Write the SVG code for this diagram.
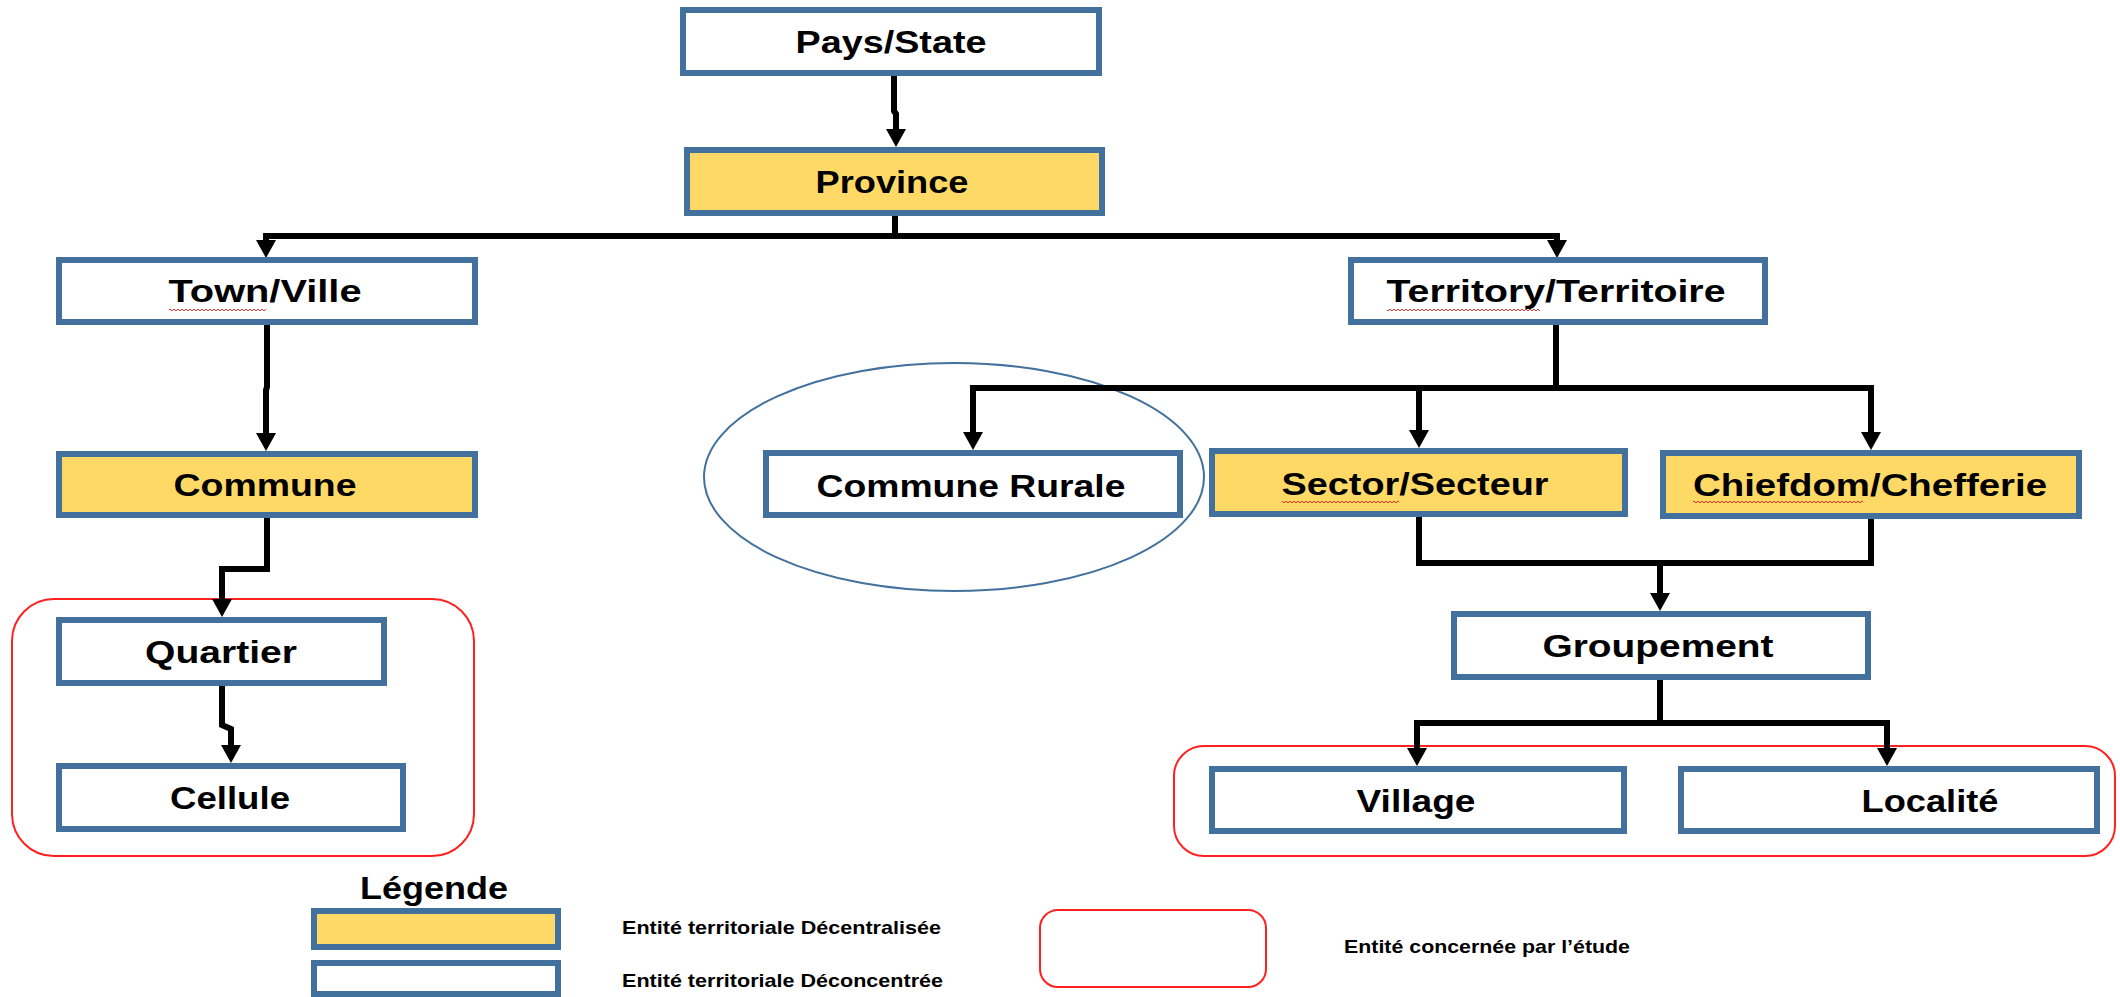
<svg xmlns="http://www.w3.org/2000/svg" width="2120" height="997" viewBox="0 0 2120 997">
<defs>
<style>
.box{fill:#FFFFFF;stroke:#41719C;stroke-width:6}
.dec{fill:#FFD966;stroke:#41719C;stroke-width:6}
.lbl{font-family:"Liberation Sans",Arial,sans-serif;font-weight:bold;font-size:32px;fill:#000;text-anchor:middle}
.leg{font-family:"Liberation Sans",Arial,sans-serif;font-weight:bold;font-size:19px;fill:#000}
.zone{fill:none;stroke:#FF2020;stroke-width:2}
.conn{fill:none;stroke:#000;stroke-width:6;stroke-linejoin:miter}
.sq{fill:url(#sq)}
</style>
<marker id="arr" viewBox="0 0 18 20" refX="8" refY="10" markerWidth="18" markerHeight="20" markerUnits="userSpaceOnUse" orient="auto">
<path d="M0 0 L18 10 L0 20 Z" fill="#000"/>
</marker>
<pattern id="sq" width="4" height="4" patternUnits="userSpaceOnUse">
<path d="M0 3 L2 1 L4 3" stroke="#E02020" stroke-width="0.9" fill="none"/>
</pattern>
</defs>

<g id="zones">
<rect class="zone" x="12" y="599" width="462" height="257" rx="42" ry="42"/>
<rect class="zone" x="1174" y="746" width="941" height="110" rx="30" ry="30"/>
<ellipse id="ellipse-rurale" cx="954" cy="477" rx="250" ry="114" fill="none" stroke="#41719C" stroke-width="2"/>
</g>

<g id="connectors">
<path class="conn" d="M894 76 V111 L896 114 V137" marker-end="url(#arr)"/>
<path class="conn" d="M895 216 V236"/>
<path class="conn" d="M895 236 H266 V248" marker-end="url(#arr)"/>
<path class="conn" d="M895 236 H1557 V248" marker-end="url(#arr)"/>
<path class="conn" d="M267 325 V387 L266 390 V441" marker-end="url(#arr)"/>
<path class="conn" d="M267 518 V569 H222 V607" marker-end="url(#arr)"/>
<path class="conn" d="M222 686 V725 L231 729 V753" marker-end="url(#arr)"/>
<path class="conn" d="M1556 325 V388"/>
<path class="conn" d="M1556 388 H973 V440" marker-end="url(#arr)"/>
<path class="conn" d="M1556 388 H1419 V438" marker-end="url(#arr)"/>
<path class="conn" d="M1556 388 H1871 V440" marker-end="url(#arr)"/>
<path class="conn" d="M1419 517 V563 H1871 V519"/>
<path class="conn" d="M1660 563 V601" marker-end="url(#arr)"/>
<path class="conn" d="M1660 680 V723"/>
<path class="conn" d="M1660 723 H1417 V756" marker-end="url(#arr)"/>
<path class="conn" d="M1660 723 H1887 V756" marker-end="url(#arr)"/>
</g>

<g id="pays"><rect class="box" x="683" y="10" width="416" height="63"/><text class="lbl" x="891" y="53" textLength="191" lengthAdjust="spacingAndGlyphs">Pays/State</text></g>
<g id="province"><rect class="dec" x="687" y="150" width="415" height="63"/><text class="lbl" x="892" y="193" textLength="153" lengthAdjust="spacingAndGlyphs">Province</text></g>
<g id="town"><rect class="box" x="59" y="260" width="416" height="62"/><text class="lbl" x="265" y="302" textLength="193" lengthAdjust="spacingAndGlyphs">Town/Ville</text><rect class="sq" x="169" y="308" width="97" height="4"/></g>
<g id="territory"><rect class="box" x="1351" y="260" width="414" height="62"/><text class="lbl" x="1556" y="302" textLength="339" lengthAdjust="spacingAndGlyphs">Territory/Territoire</text><rect class="sq" x="1387" y="308" width="153" height="4"/></g>
<g id="commune"><rect class="dec" x="59" y="454" width="416" height="61"/><text class="lbl" x="265" y="496" textLength="183" lengthAdjust="spacingAndGlyphs">Commune</text></g>
<g id="commune-rurale"><rect class="box" x="766" y="453" width="414" height="62"/><text class="lbl" x="971" y="497" textLength="309" lengthAdjust="spacingAndGlyphs">Commune Rurale</text></g>
<g id="sector"><rect class="dec" x="1212" y="451" width="413" height="63"/><text class="lbl" x="1415" y="495" textLength="267" lengthAdjust="spacingAndGlyphs">Sector/Secteur</text><rect class="sq" x="1282" y="500" width="117" height="4"/></g>
<g id="chiefdom"><rect class="dec" x="1663" y="453" width="416" height="63"/><text class="lbl" x="1870" y="496" textLength="354" lengthAdjust="spacingAndGlyphs">Chiefdom/Chefferie</text><rect class="sq" x="1693" y="500" width="170" height="4"/></g>
<g id="quartier"><rect class="box" x="59" y="620" width="325" height="63"/><text class="lbl" x="221" y="663" textLength="152" lengthAdjust="spacingAndGlyphs">Quartier</text></g>
<g id="cellule"><rect class="box" x="59" y="766" width="344" height="63"/><text class="lbl" x="230" y="809" textLength="120" lengthAdjust="spacingAndGlyphs">Cellule</text></g>
<g id="groupement"><rect class="box" x="1454" y="614" width="414" height="63"/><text class="lbl" x="1658" y="657" textLength="231" lengthAdjust="spacingAndGlyphs">Groupement</text></g>
<g id="village"><rect class="box" x="1212" y="769" width="412" height="62"/><text class="lbl" x="1416" y="812" textLength="119" lengthAdjust="spacingAndGlyphs">Village</text></g>
<g id="localite"><rect class="box" x="1681" y="769" width="416" height="62"/><text class="lbl" x="1930" y="812" textLength="137" lengthAdjust="spacingAndGlyphs">Localité</text></g>

<g id="legend">
<text class="lbl" x="434" y="899" textLength="148" lengthAdjust="spacingAndGlyphs">Légende</text>
<rect class="dec" x="314" y="911" width="244" height="36"/>
<rect class="box" x="314" y="963" width="244" height="31"/>
<text class="leg" x="622" y="934" textLength="319" lengthAdjust="spacingAndGlyphs">Entité territoriale Décentralisée</text>
<text class="leg" x="622" y="987" textLength="321" lengthAdjust="spacingAndGlyphs">Entité territoriale Déconcentrée</text>
<rect class="zone" x="1040" y="910" width="226" height="77" rx="18" ry="18"/>
<text class="leg" x="1344" y="953" textLength="286" lengthAdjust="spacingAndGlyphs">Entité concernée par l’étude</text>
</g>
</svg>
